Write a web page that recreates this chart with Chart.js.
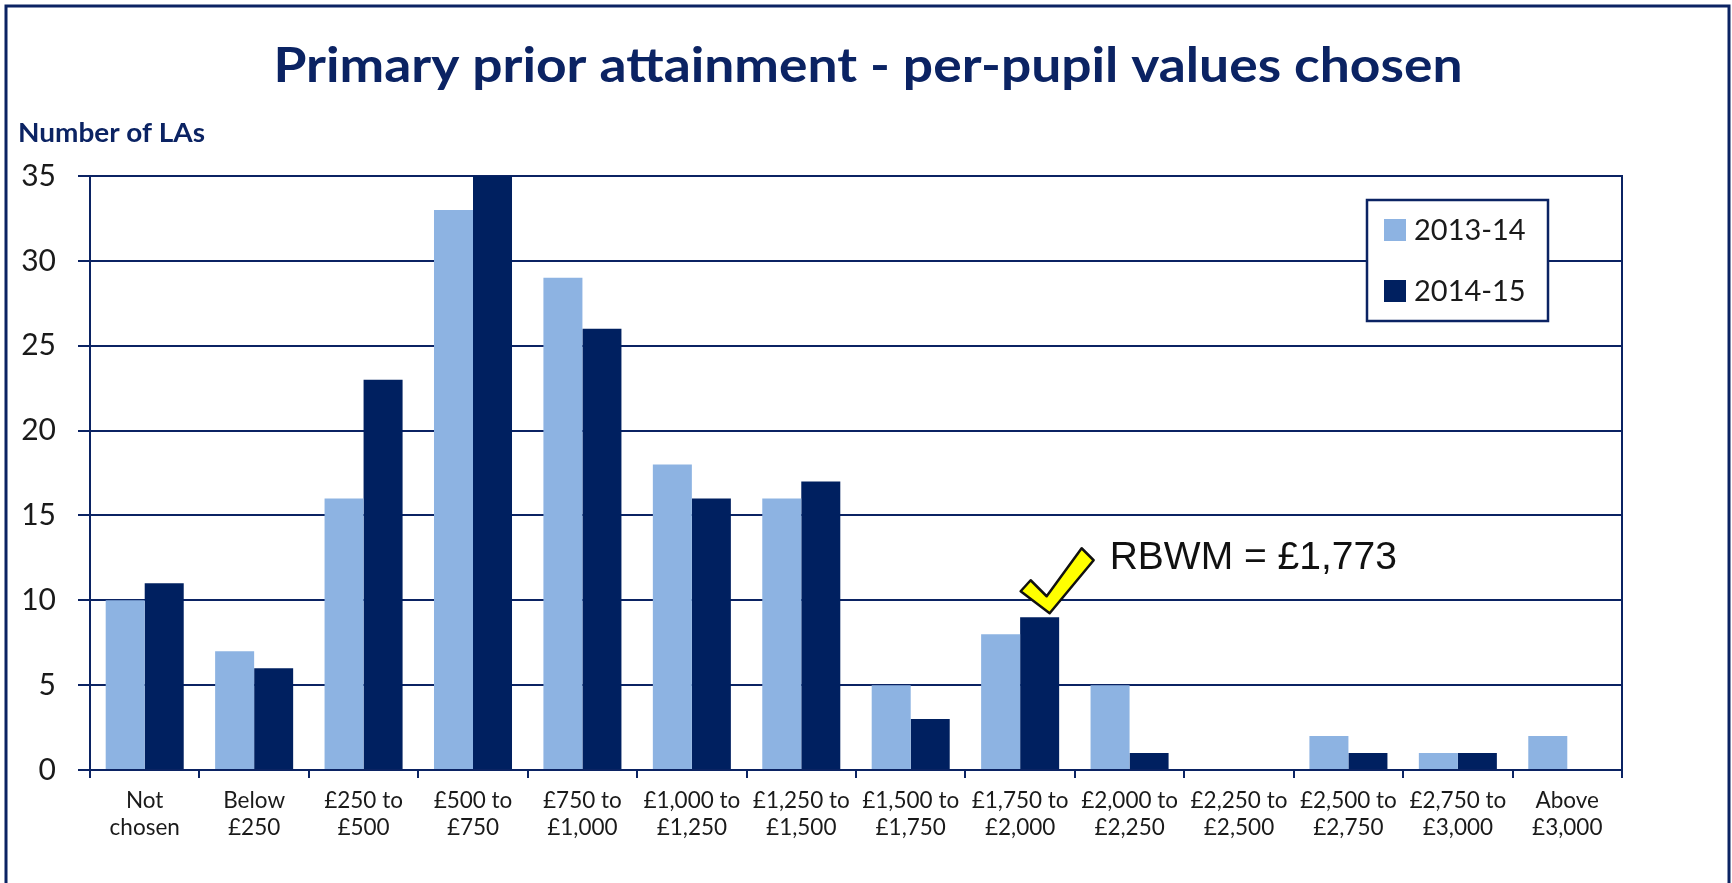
<!DOCTYPE html>
<html lang="en">
<head>
<meta charset="UTF-8" />
<title>Primary prior attainment - per-pupil values chosen</title>
<script src="https://cdn.jsdelivr.net/npm/chart.js"></script>
<style>
  body { margin: 0; background: #fff; }
  #wrap { width: 1732px; height: 883px; }
</style>
</head>
<body>
<div id="wrap"><canvas id="chart" width="1732" height="883"></canvas></div>
<script>
  const chartTitle = 'Primary prior attainment - per-pupil values chosen';
  const yTitle = 'Number of LAs';
  const bands = [
    ['Not', 'chosen'], ['Below', '£250'], ['£250 to', '£500'], ['£500 to', '£750'],
    ['£750 to', '£1,000'], ['£1,000 to', '£1,250'], ['£1,250 to', '£1,500'],
    ['£1,500 to', '£1,750'], ['£1,750 to', '£2,000'], ['£2,000 to', '£2,250'],
    ['£2,250 to', '£2,500'], ['£2,500 to', '£2,750'], ['£2,750 to', '£3,000'],
    ['Above', '£3,000']
  ];
  const seriesNames = ['2013-14', '2014-15'];
  const values1314 = [10, 7, 16, 33, 29, 18, 16, 5, 8, 5, 0, 2, 1, 2];
  const values1415 = [11, 6, 23, 35, 26, 16, 17, 3, 9, 1, 0, 1, 1, 0];
  const yMax = 35;
  const yStep = 5;
  const rbwmBand = 8; // £1,750 to £2,000
  const rbwmLabel = 'RBWM = £1,773';

  const navy = '#0b2363';
  const lightBlue = '#8db3e2';
  const darkBlue = '#002060';
  const textColor = '#1a1a1a';

  // draw text squeezed to a given width (Calibri is narrower than what we have)
  function fitText(ctx, text, x, y, width, font, color, align) {
    ctx.save();
    ctx.font = font;
    ctx.fillStyle = color;
    ctx.textBaseline = 'alphabetic';
    ctx.textAlign = align;
    const w = ctx.measureText(text).width;
    ctx.translate(x, y);
    ctx.scale(width / w, 1);
    ctx.fillText(text, 0, 0);
    ctx.restore();
  }

  const extras = {
    id: 'extras',
    afterDraw(chart) {
      const ctx = chart.ctx;
      const area = chart.chartArea;
      ctx.save();

      // outer frame
      ctx.strokeStyle = navy;
      ctx.lineWidth = 3;
      ctx.strokeRect(6, 6, 1723, 1000);

      // right edge of the plot
      ctx.lineWidth = 2;
      ctx.beginPath();
      ctx.moveTo(area.right, area.top - 1);
      ctx.lineTo(area.right, area.bottom);
      ctx.stroke();

      fitText(ctx, chartTitle, 868, 82, 1189, 'bold 48px Lato', navy, 'center');
      fitText(ctx, yTitle, 18, 142, 187, 'bold 26px Lato', navy, 'left');

      // legend box
      const lx = 1367, ly = 200;
      ctx.fillStyle = '#fff';
      ctx.fillRect(lx, ly, 181, 121);
      ctx.strokeStyle = navy;
      ctx.lineWidth = 2.5;
      ctx.strokeRect(lx, ly, 181, 121);
      chart.data.datasets.forEach((ds, i) => {
        const rowY = ly + 19 + i * 61;
        ctx.fillStyle = ds.backgroundColor;
        ctx.fillRect(lx + 17, rowY, 22, 22);
        ctx.fillStyle = textColor;
        ctx.font = '29px Lato';
        ctx.textAlign = 'left';
        ctx.textBaseline = 'alphabetic';
        ctx.fillText(ds.label, lx + 47, rowY + 21);
      });

      // tick mark above the RBWM bar
      const bar = chart.getDatasetMeta(1).data[rbwmBand];
      const tx = bar.x + 10, ty = bar.y - 4;
      const pts = [[0, 0], [-29, -22], [-19, -33], [-3, -17], [32, -65], [44, -53]];
      ctx.beginPath();
      pts.forEach(([dx, dy], i) => {
        if (i === 0) ctx.moveTo(tx + dx, ty + dy);
        else ctx.lineTo(tx + dx, ty + dy);
      });
      ctx.closePath();
      ctx.fillStyle = '#ffff00';
      ctx.fill();
      ctx.lineJoin = 'round';
      ctx.lineWidth = 2.5;
      ctx.strokeStyle = '#111';
      ctx.stroke();

      ctx.fillStyle = '#111';
      ctx.font = '39px "Liberation Sans"';
      ctx.textAlign = 'left';
      ctx.textBaseline = 'alphabetic';
      ctx.fillText(rbwmLabel, tx + 60, ty - 44);

      ctx.restore();
    }
  };

  new Chart(document.getElementById('chart'), {
    type: 'bar',
    data: {
      labels: bands,
      datasets: [
        { label: seriesNames[0], data: values1314, backgroundColor: lightBlue },
        { label: seriesNames[1], data: values1415, backgroundColor: darkBlue }
      ]
    },
    options: {
      responsive: false,
      animation: false,
      devicePixelRatio: 1,
      layout: { padding: { left: 0, right: 110, top: 176, bottom: 0 } },
      datasets: {
        bar: { barPercentage: 1, categoryPercentage: 0.713, borderWidth: 0 }
      },
      plugins: {
        legend: { display: false },
        tooltip: { enabled: false }
      },
      scales: {
        x: {
          grid: { drawOnChartArea: false, offset: true, color: navy, lineWidth: 2, tickLength: 8 },
          border: { color: navy, width: 2 },
          ticks: {
            font: { family: 'Lato', size: 22.5, lineHeight: 1.2 },
            color: textColor,
            maxRotation: 0,
            autoSkip: false,
            padding: 9
          },
          afterFit(s) { s.height = 113; }
        },
        y: {
          min: 0,
          max: yMax,
          ticks: { stepSize: yStep, font: { family: 'Lato', size: 30 }, color: textColor, padding: 22 },
          grid: { color: navy, lineWidth: 2, tickLength: 12 },
          border: { color: navy, width: 2 },
          afterFit(s) { s.width = 90; }
        }
      }
    },
    plugins: [extras]
  });
</script>
</body>
</html>
